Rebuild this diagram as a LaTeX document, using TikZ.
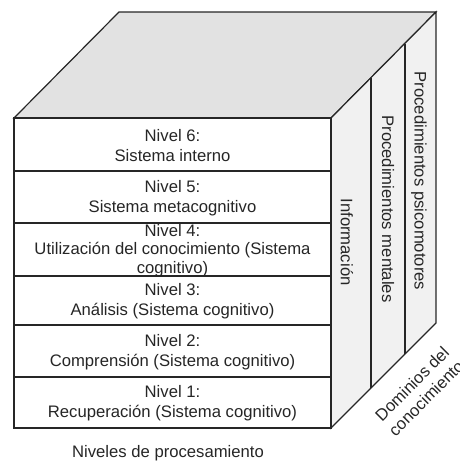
\documentclass[tikz,border=0pt]{standalone}
\usepackage{fontspec}
\setmainfont{Liberation Sans}
\usepackage{xcolor}
\usetikzlibrary{positioning,calc}

\definecolor{grisarriba}{RGB}{226,226,226}
\definecolor{grislado}{RGB}{241,241,241}

\tikzset{
  borde/.style={line width=0.9pt, draw=black!85},
  texto/.style={align=center, font=\fontsize{12.5}{15}\selectfont, text=black!85, inner sep=0pt},
}

\begin{document}
\begin{tikzpicture}[x=0.75pt,y=-0.75pt]
			\useasboundingbox (0,0) rectangle (460,462);
			
			% cara superior y lateral
			\draw[borde, fill=grisarriba] (14,118) -- (119,12) -- (436,12) -- (331,118) -- cycle;
			\draw[borde, fill=grislado] (331,118) -- (436,12) -- (436,323) -- (331,428) -- cycle;
			\draw[borde] (371,78) -- (371,388);
			\draw[borde] (405,44) -- (405,354);
			
			% cara frontal
			\draw[borde, fill=white] (14,118) rectangle (331,428);
			\foreach \y in {171,223,276,325,377} { \draw[borde] (14,\y) -- (331,\y); }
			
			\node[texto] (nivel6) at (172.5,146) {Nivel 6:\\Sistema interno};
			\node[texto] (nivel5) at (172.5,198) {Nivel 5:\\Sistema metacognitivo};
			\node[texto, font=\fontsize{12.5}{14}\selectfont] (nivel4) at (172.5,250.5) {Nivel 4:\\Utilización del conocimiento (Sistema\\cognitivo)};
			\node[texto] (nivel3) at (172.5,301) {Nivel 3:\\Análisis (Sistema cognitivo)};
			\node[texto] (nivel2) at (172.5,352) {Nivel 2:\\Comprensión (Sistema cognitivo)};
			\node[texto] (nivel1) at (172.5,403) {Nivel 1:\\Recuperación (Sistema cognitivo)};
			
			\node[texto, rotate=-90] (informacion) at (347,242) {Información};
			\node[texto, rotate=-90] (mentales) at (388,209) {Procedimientos mentales};
			\node[texto, rotate=-90] (psicomotores) at (419,181) {Procedimientos psicomotores};
			
			\node[texto, rotate=45] (dominios) at (419,391) {Dominios del\\conocimiento};
			\node[texto] (niveles) at (168,453) {Niveles de procesamiento};
		\end{tikzpicture}
\end{document}
